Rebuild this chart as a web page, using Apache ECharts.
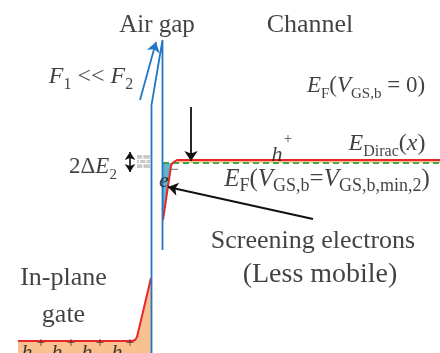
<!DOCTYPE html>
<html>
<head>
<meta charset="utf-8">
<script src="https://cdn.jsdelivr.net/npm/echarts@6/dist/echarts.min.js"></script>
<style>
html, body { margin: 0; padding: 0; background: #fff; }
#chart { width: 440px; height: 353px; }
</style>
</head>
<body>
<div id="chart"></div>
<script>
// Band diagram: in-plane gate | air gap | graphene channel.
// x = lateral position, y = electron energy (arbitrary units, energy grows upward).

// Gate band edge (hole-doped), rising towards the air gap
const gateBand = [[18, 12], [132, 12], [135, 13], [137, 16], [151, 75]];
// Dirac point across the channel, bent down at the gap edge
const diracLevel = [[163, 133], [171, 187], [172.5, 190], [174, 192], [177, 193], [440, 193]];
// Fermi level in the channel at V_GS,b = V_GS,b,min,2
const fermiLevel = [[163, 190], [440, 190]];
// Outline of the air-gap barrier
const airGap = [[151.5, 0], [151.5, 248], [162.5, 313], [162.5, 103]];
// Screening electron pocket and hole sheet
const electronPocket = [[163, 190], [172.5, 190], [171, 187], [163, 133]];
const holeSheet = [[172.5, 190], [174, 192], [177, 193], [440, 193], [440, 190]];
// Trap-state block next to 2ΔE2
const trapBlock = [[137, 185], [150, 198]];
// Arrows: field arrow, E_F marker, pointer to the electrons, 2ΔE2 span
const fieldArrow = [[140, 253], [156, 311]];
const fermiMarker = [[191, 246], [191, 192]];
const electronPointer = [[313, 134], [168, 166]];
const splitSpan = [[130, 201], [130, 181]];
// Holes in the gate: carrier symbols and their charge marks
const gateHoles = [27, 57, 87, 117];
const gateHoleCharges = [41, 71, 100, 130];

const SERIF = '"Liberation Serif", "Times New Roman", serif';
const INK = '#111';
const BLUE = '#2277c4';
const RED = '#e8262b';
const PEACH = '#f9c18f';

function rich(size, subSize) {
  const sub = subSize || Math.round(size * 0.66);
  return {
    r: { fontFamily: SERIF, fontSize: size, lineHeight: size + 8, color: INK },
    i: { fontFamily: SERIF, fontSize: size, fontStyle: 'italic', lineHeight: size + 8, color: INK },
    s: { fontFamily: SERIF, fontSize: sub, verticalAlign: 'bottom', color: INK },
    p: { fontFamily: SERIF, fontSize: sub, verticalAlign: 'top', color: INK }
  };
}

function note(pos, text, size, subSize) {
  return {
    value: pos,
    label: {
      show: true,
      position: 'inside',
      align: 'center',
      verticalAlign: 'middle',
      formatter: text,
      rich: rich(size, subSize)
    }
  };
}

const notes = [
  note([157, 328], '{r|Air gap}', 25),
  note([310, 328], '{r|Channel}', 26),
  note([91, 276], '{i|F}{s|1}{r| << }{i|F}{s|2}', 24),
  note([366, 267], '{i|E}{s|F}{r|(}{i|V}{s|GS,b}{r| = 0)}', 23),
  note([93, 186], '{r|2Δ}{i|E}{s|2}', 23),
  note([277, 198], '{i|h}', 22),
  note([288, 214], '{r|+}', 15),
  note([387, 209], '{i|E}{s|Dirac}{r|(}{i|x}{r|)}', 24),
  note([164, 172], '{i|e}', 22),
  note([174.5, 183], '{r|−}', 15),
  note([327, 174], '{i|E}{s|F}{r|(}{i|V}{s|GS,b}{r|=}{i|V}{s|GS,b,min,2}{r|)}', 25, 18),
  note([313, 112], '{r|Screening electrons}', 26),
  note([320, 78], '{r|(Less mobile)}', 28),
  note([63.5, 75], '{r|In-plane}', 26),
  note([63.5, 38], '{r|gate}', 26)
].concat(
  gateHoles.map(function (x) { return note([x, 0], '{i|h}', 22); }),
  gateHoleCharges.map(function (x) { return note([x, 10], '{r|+}', 15); })
);

function polygonSeries(points, fill, z) {
  return {
    type: 'custom',
    silent: true,
    z: z,
    data: [0],
    renderItem: function (params, api) {
      return {
        type: 'polygon',
        shape: { points: points.map(function (p) { return api.coord(p); }) },
        style: { fill: fill }
      };
    }
  };
}

function arrowSeries(coords, color, width, symbols, size) {
  return {
    type: 'lines',
    coordinateSystem: 'cartesian2d',
    silent: true,
    z: 6,
    symbol: symbols,
    symbolSize: size,
    lineStyle: { color: color, width: width, opacity: 1, curveness: 0 },
    data: [{ coords: coords }]
  };
}

const chart = echarts.init(document.getElementById('chart'), null, { renderer: 'canvas' });
chart.setOption({
  animation: false,
  backgroundColor: '#fff',
  grid: { left: 0, right: 0, top: 0, bottom: 0 },
  xAxis: { type: 'value', min: 0, max: 440, show: false },
  yAxis: { type: 'value', min: 0, max: 353, show: false },
  series: [
    {
      type: 'line',
      data: gateBand,
      symbol: 'none',
      silent: true,
      z: 3,
      lineStyle: { color: RED, width: 2 },
      areaStyle: { color: PEACH, opacity: 1, origin: 'start' }
    },
    polygonSeries(holeSheet, PEACH, 2),
    polygonSeries(electronPocket, '#62b5c9', 2),
    {
      type: 'custom',
      silent: true,
      z: 3,
      data: [0],
      renderItem: function (params, api) {
        const a = api.coord(trapBlock[0]);
        const b = api.coord(trapBlock[1]);
        const x = a[0], y = b[1], w = b[0] - a[0], h = a[1] - b[1];
        const white = { stroke: '#fff', lineWidth: 1.2 };
        return {
          type: 'group',
          children: [
            { type: 'rect', shape: { x: x, y: y, width: w, height: h }, style: { fill: '#c9c9c9' } },
            { type: 'line', shape: { x1: x, y1: y + h / 3, x2: x + w, y2: y + h / 3 }, style: white },
            { type: 'line', shape: { x1: x, y1: y + 2 * h / 3, x2: x + w, y2: y + 2 * h / 3 }, style: white },
            { type: 'line', shape: { x1: x + w * 0.45, y1: y, x2: x + w * 0.45, y2: y + h / 3 }, style: white },
            { type: 'line', shape: { x1: x + w * 0.2, y1: y + h / 3, x2: x + w * 0.2, y2: y + 2 * h / 3 }, style: white },
            { type: 'line', shape: { x1: x + w * 0.7, y1: y + h / 3, x2: x + w * 0.7, y2: y + 2 * h / 3 }, style: white },
            { type: 'line', shape: { x1: x + w * 0.45, y1: y + 2 * h / 3, x2: x + w * 0.45, y2: y + h }, style: white }
          ]
        };
      }
    },
    {
      type: 'line',
      data: fermiLevel,
      symbol: 'none',
      silent: true,
      z: 4,
      lineStyle: { color: '#3fa64a', width: 2, type: [6, 4] }
    },
    {
      type: 'line',
      data: diracLevel,
      symbol: 'none',
      silent: true,
      z: 4,
      lineStyle: { color: RED, width: 2 }
    },
    {
      type: 'line',
      data: airGap,
      symbol: 'none',
      silent: true,
      z: 5,
      lineStyle: { color: BLUE, width: 1.8, join: 'miter' }
    },
    arrowSeries(fieldArrow, BLUE, 1.8, ['none', 'arrow'], [0, 10]),
    arrowSeries(fermiMarker, '#111', 1.8, ['none', 'arrow'], [0, 10]),
    arrowSeries(electronPointer, '#111', 1.8, ['none', 'arrow'], [0, 10]),
    arrowSeries(splitSpan, '#111', 1.6, ['arrow', 'arrow'], 8),
    {
      type: 'scatter',
      symbolSize: 0,
      silent: true,
      clip: false,
      z: 10,
      data: notes
    }
  ]
});
</script>
</body>
</html>
